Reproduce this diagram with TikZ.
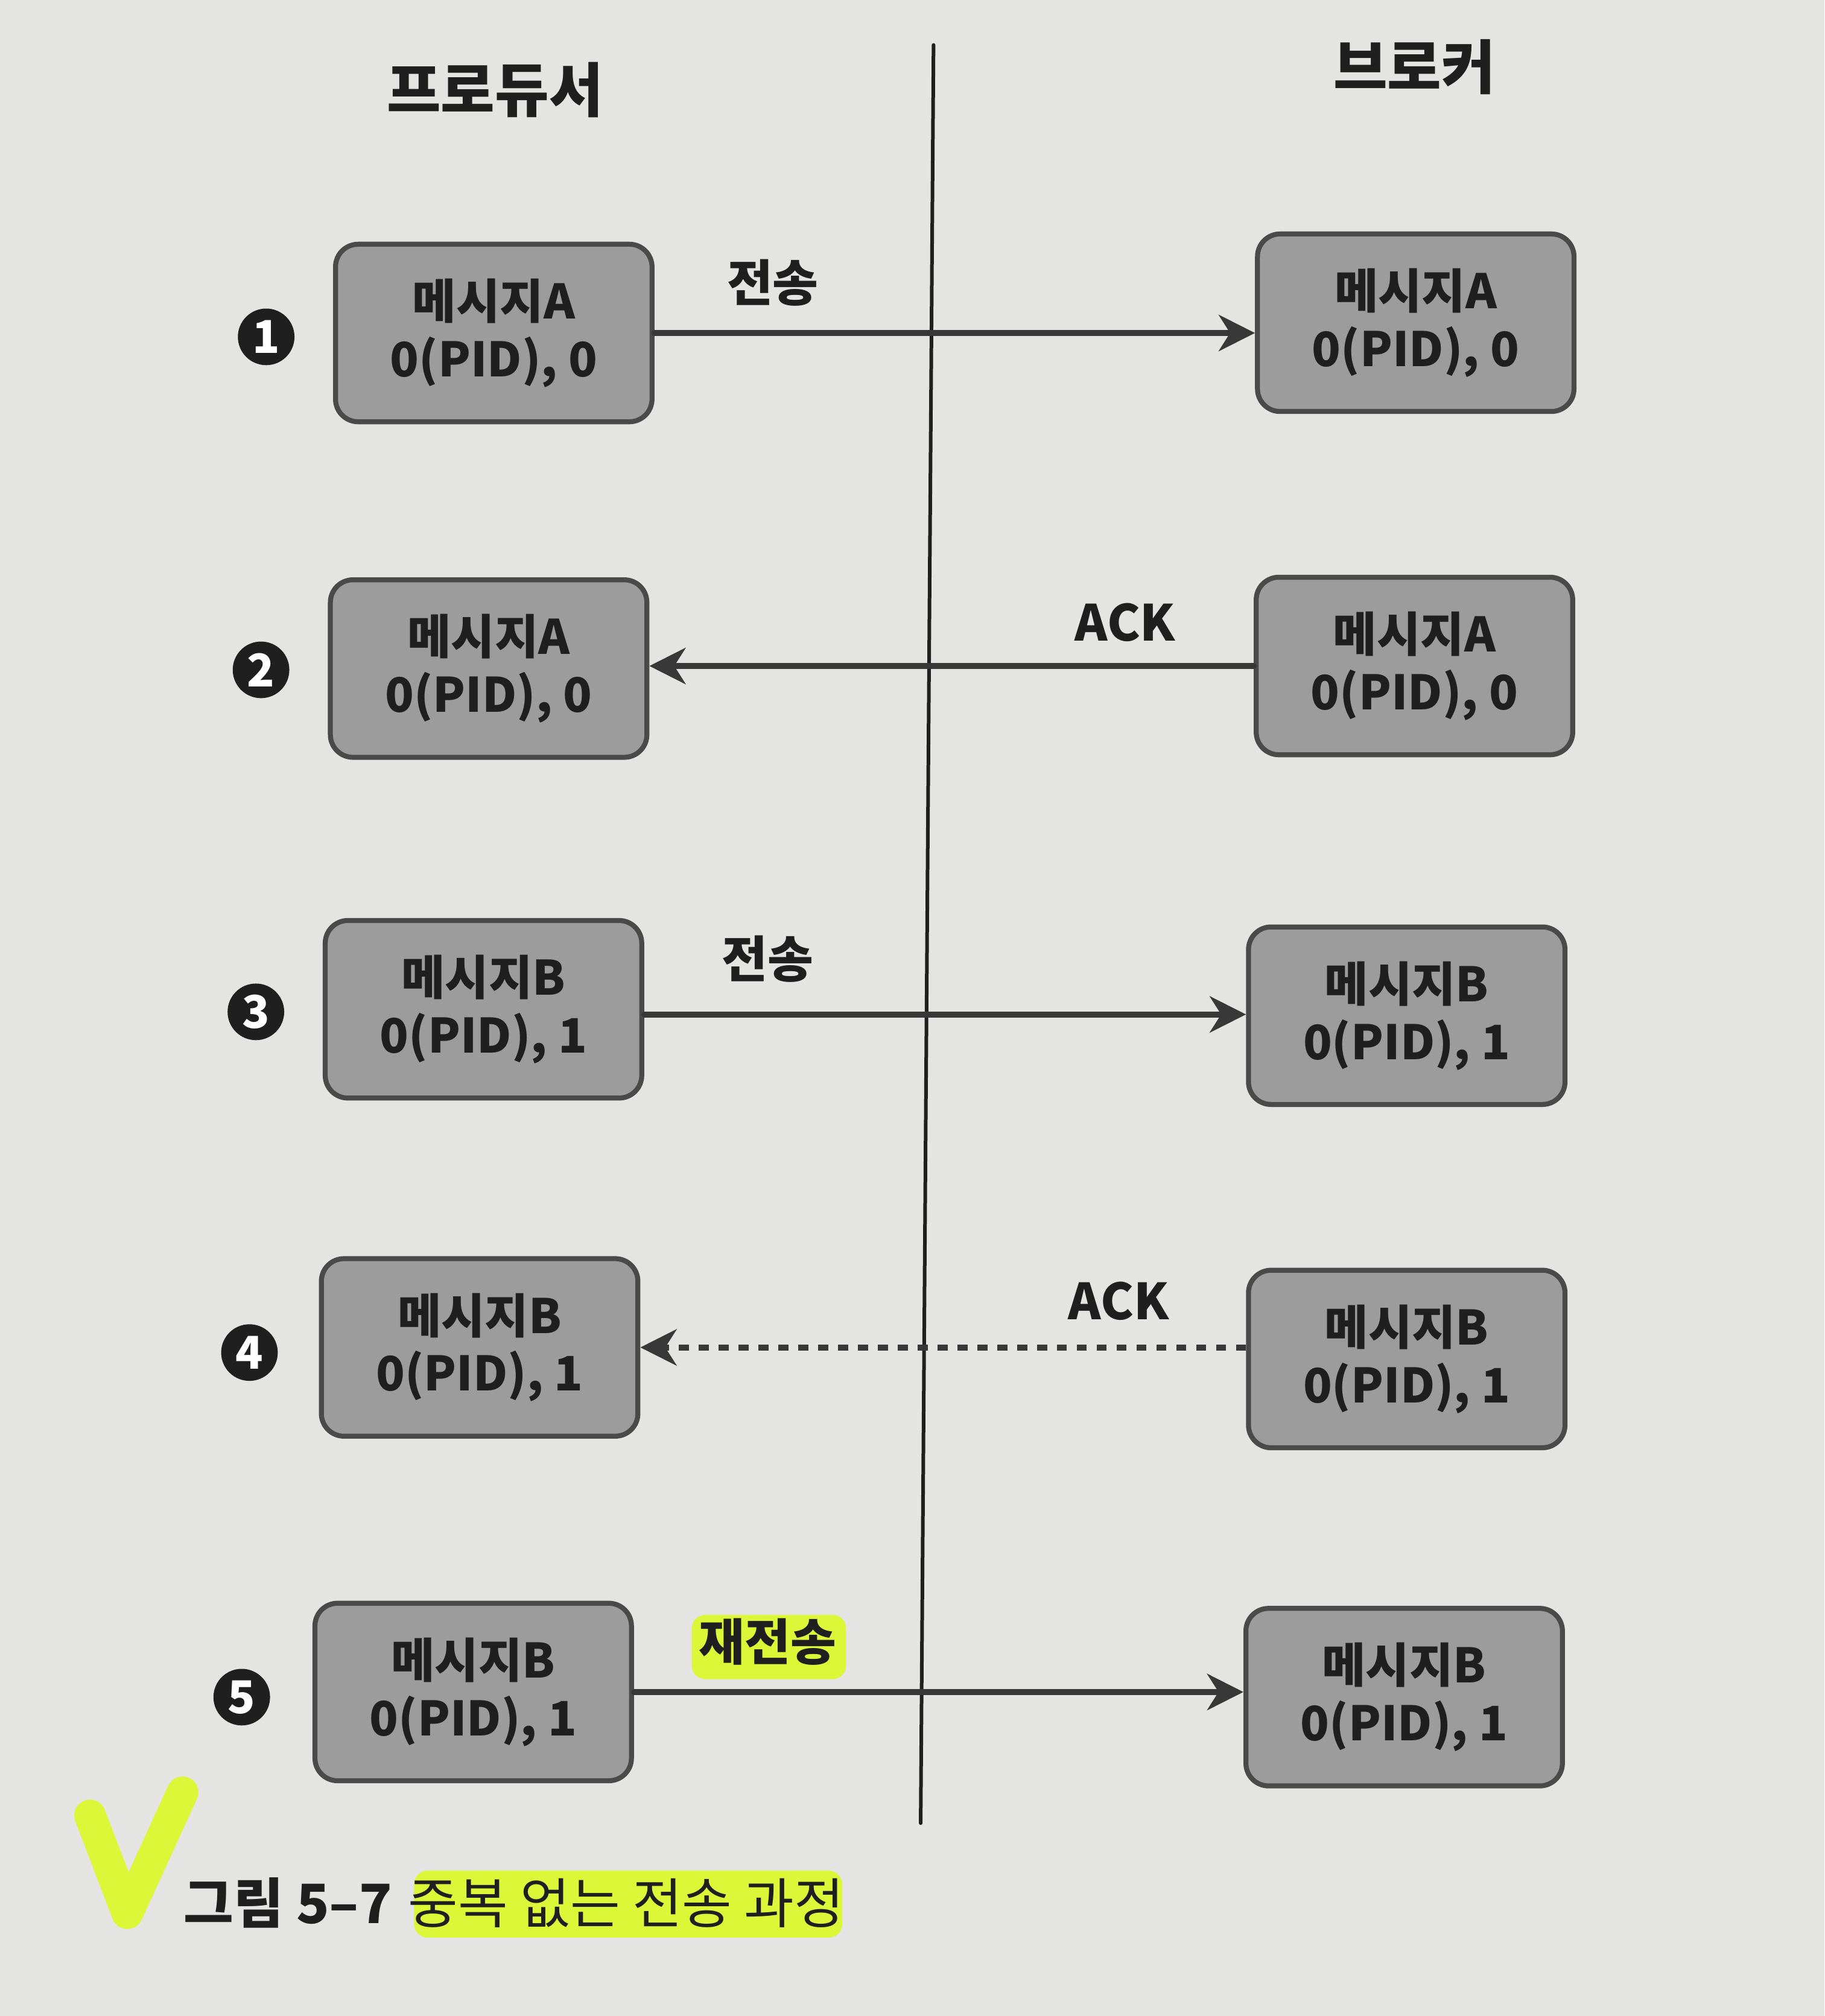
\documentclass[tikz,border=0pt]{standalone}
\usepackage{fontspec}
\setmainfont{Noto Sans CJK KR}
\usetikzlibrary{arrows.meta}
\usetikzlibrary{positioning}
\usepackage{xcolor}

\definecolor{pagegray}{rgb}{0.895,0.895,0.885}
\definecolor{boxgray}{rgb}{0.61,0.61,0.61}
\definecolor{boxline}{rgb}{0.29,0.29,0.29}
\definecolor{inkdark}{rgb}{0.12,0.12,0.12}
\definecolor{arrowgray}{rgb}{0.22,0.22,0.22}
\definecolor{marker}{rgb}{0.86,0.97,0.22}

\begin{document}
\begin{tikzpicture}[line cap=round,line join=round,x=0.01cm,y=0.01cm,
  msgbox/.style={draw=boxline,fill=boxgray,line width=1.1pt,rounded corners=5pt,minimum width=2.46cm,minimum height=1.38cm,align=center,text=inkdark,font=\fontsize{10.5}{12.8}\selectfont\bfseries},
  stepnum/.style={circle,fill=inkdark,text=white,inner sep=0pt,minimum size=0.44cm,font=\fontsize{10}{10}\selectfont\bfseries},
  msglabel/.style={text=inkdark,font=\fontsize{11}{13}\selectfont\bfseries},
  sendline/.style={draw=arrowgray,line width=1.3pt,-{Stealth[length=8pt,width=8pt,inset=2.5pt]}},
  ackdots/.style={sendline,line cap=butt,dash pattern=on 2.2pt off 2.2pt},
  figcap/.style={text=inkdark,font=\fontsize{12}{14}\selectfont}]
\fill[pagegray] (0,0) rectangle (1419,1568);
\useasboundingbox (0,0) rectangle (1419,1568);
% headers and divider
\node[text=inkdark,font=\fontsize{13}{15}\selectfont\bfseries] (producer) at (385,1498) {프로듀서};
\node[text=inkdark,font=\fontsize{13}{15}\selectfont\bfseries] (broker) at (1100,1516) {브로커};
\coordinate (divtop) at (726,1533);
\coordinate (divbot) at (716,150);
\draw[inkdark,line width=0.8pt] (divtop) -- (divbot);
% step 1
\node[stepnum] (n1) at (207,1306) {1};
\node[msgbox] (p1) at (384,1309) {메시지A\\0(PID), 0};
\node[msgbox] (b1) at (1101,1317) {메시지A\\0(PID), 0};
\draw[sendline] (p1.east) -- (p1.east -| b1.west);
\node[msglabel] (s1) at (601,1348) {전송};
% step 2
\node[stepnum] (n2) at (203,1047) {2};
\node[msgbox] (p2) at (380,1048) {메시지A\\0(PID), 0};
\node[msgbox] (b2) at (1100,1050) {메시지A\\0(PID), 0};
\draw[sendline] (b2.west) -- (b2.west -| p2.east);
\node[msglabel] (a2) at (875,1084) {ACK};
% step 3
\node[stepnum] (n3) at (199,781) {3};
\node[msgbox] (p3) at (376,783) {메시지B\\0(PID), 1};
\node[msgbox] (b3) at (1094,778) {메시지B\\0(PID), 1};
\draw[sendline] (p3.east) ++(0,-4) coordinate (t3) -- (t3 -| b3.west);
\node[msglabel] (s3) at (597,822) {전송};
% step 4
\node[stepnum] (n4) at (194,516) {4};
\node[msgbox] (p4) at (373,520) {메시지B\\0(PID), 1};
\node[msgbox] (b4) at (1094,511) {메시지B\\0(PID), 1};
\draw[ackdots] (p4.east -| b4.west) -- (p4.east);
\node[msglabel] (a4) at (870,556) {ACK};
% step 5
\node[stepnum] (n5) at (188,248) {5};
\node[msgbox] (p5) at (368,252) {메시지B\\0(PID), 1};
\node[msgbox] (b5) at (1092,248) {메시지B\\0(PID), 1};
\fill[marker,rounded corners=3pt] (538,262) rectangle (658,312);
\draw[sendline] (p5.east) -- (p5.east -| b5.west);
\node[msglabel] (s5) at (597,291) {재전송};
% caption
\draw[marker,line width=7pt] (70,156) -- (99,80) -- (142,174);
\fill[marker,rounded corners=3pt] (322,61) rectangle (655,113);
\node[figcap,font=\fontsize{12}{14}\selectfont\bfseries] (fignum) at (224,88) {그림 5–7};
\node[figcap] (figtitle) at (487,88) {중복 없는 전송 과정};
\end{tikzpicture}
\end{document}
